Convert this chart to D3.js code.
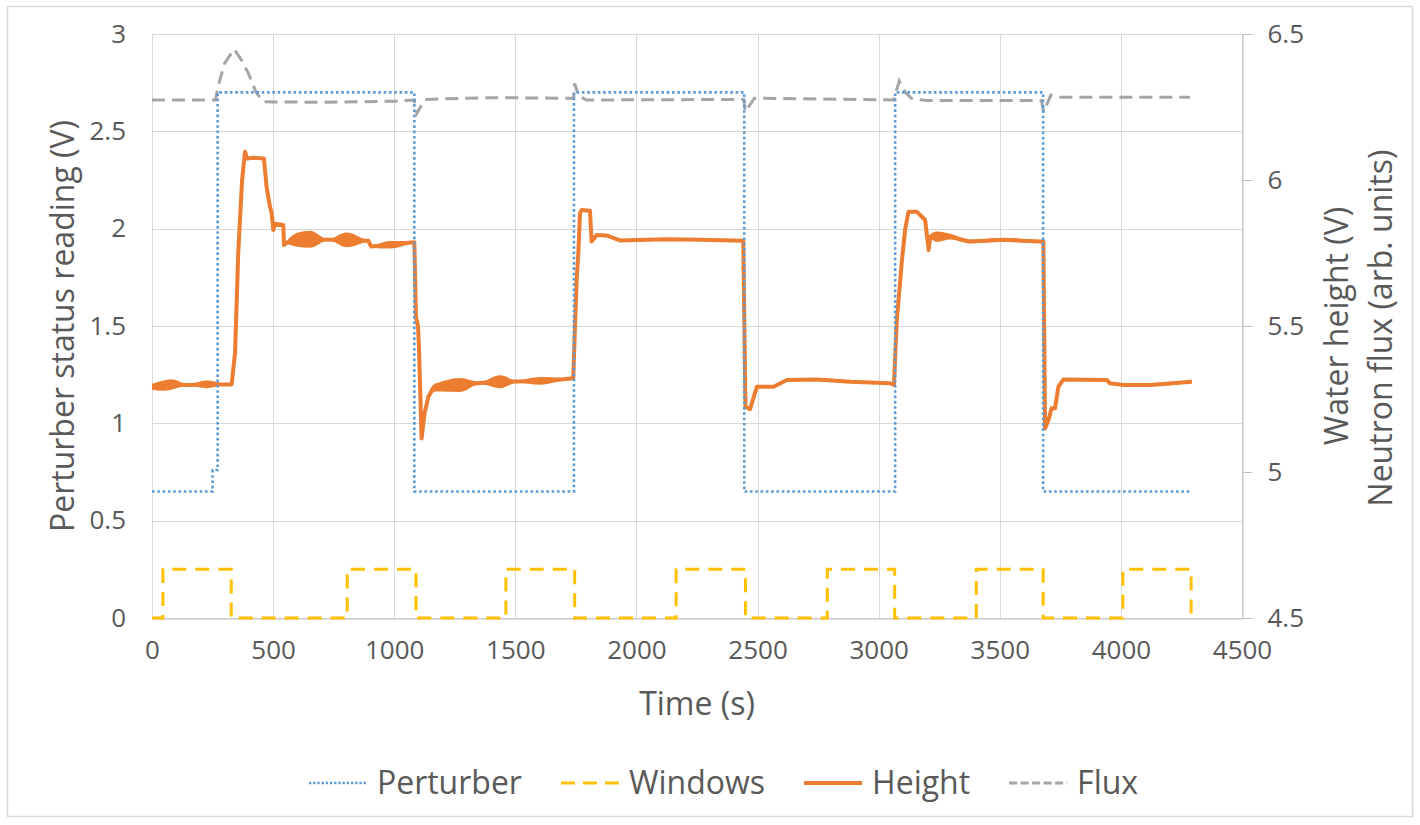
<!DOCTYPE html>
<html>
<head>
<meta charset="utf-8">
<script src="https://cdn.jsdelivr.net/npm/d3@7"></script>
<style>
  html, body { margin: 0; padding: 0; background: #fff; }
  svg { display: block; font-family: "Open Sans", "Noto Sans", sans-serif; }
</style>
</head>
<body>
<svg id="chart" width="1420" height="825"></svg>
<script>
// ---------------- data ----------------
const timeTicks = [0, 500, 1000, 1500, 2000, 2500, 3000, 3500, 4000, 4500];
const leftTicks = [0, 0.5, 1, 1.5, 2, 2.5, 3];
const rightTicks = [4.5, 5, 5.5, 6, 6.5];

// Perturber status (left axis, step series)
const perturberTime  = [0,    250,  271, 1083, 1742, 2445, 3068, 3679, 4284];
const perturberValue = [0.65, 0.76, 2.70, 0.65, 2.70, 0.65, 2.70, 0.65, 0.65];

// Windows (left axis, step series)
const windowsTime  = [0, 45,   327, 806,  1090, 1461, 1745, 2164, 2450, 2788, 3066, 3403, 3679, 4008, 4290];
const windowsValue = [0, 0.25, 0,   0.25, 0,    0.25, 0,    0.25, 0,    0.25, 0,    0.25, 0,    0.25, 0];

// Water height (right axis) + half-width of the oscillation band
const heightTime = [0, 40, 80, 150, 225, 290, 329, 343, 356, 372, 384, 392, 420, 462, 473, 487, 494, 501, 508, 542, 545,
  556, 600, 652, 727, 804, 880, 893, 905, 980, 1060, 1083,
  1090, 1098, 1102, 1113, 1125, 1141, 1162, 1189, 1272, 1354, 1437, 1506, 1602, 1700, 1739,
  1753, 1760, 1767, 1774, 1808, 1815, 1836, 1877, 1932, 2125, 2263, 2441,
  2450, 2469, 2497, 2566, 2621, 2745, 2882, 3047, 3063,
  3075, 3095, 3109, 3123, 3158, 3192, 3206, 3213, 3240, 3295, 3377, 3515, 3667, 3680,
  3687, 3701, 3714, 3728, 3742, 3763, 3942, 3955, 4010, 4120, 4293];
const heightValue = [5.292, 5.295, 5.300, 5.298, 5.300, 5.300, 5.300, 5.41, 5.75, 6.00, 6.097, 6.074, 6.076, 6.074, 5.977, 5.909, 5.886, 5.829, 5.850, 5.846, 5.777,
  5.785, 5.795, 5.797, 5.795, 5.795, 5.792, 5.792, 5.772, 5.778, 5.785, 5.787,
  5.53, 5.50, 5.43, 5.115, 5.20, 5.258, 5.287, 5.292, 5.298, 5.305, 5.309, 5.310, 5.312, 5.318, 5.321,
  5.658, 5.75, 5.886, 5.897, 5.895, 5.789, 5.812, 5.810, 5.793, 5.797, 5.795, 5.792,
  5.224, 5.215, 5.292, 5.292, 5.315, 5.317, 5.309, 5.304, 5.298,
  5.52, 5.715, 5.829, 5.891, 5.891, 5.863, 5.76, 5.806, 5.806, 5.806, 5.789, 5.795, 5.789, 5.789,
  5.150, 5.178, 5.218, 5.218, 5.292, 5.317, 5.315, 5.304, 5.298, 5.298, 5.309];
const heightBand = [0.010, 0.017, 0.018, 0.003, 0.013, 0.004, 0, 0, 0, 0, 0, 0, 0, 0, 0, 0, 0, 0, 0, 0, 0,
  0.005, 0.024, 0.029, 0.002, 0.025, 0.004, 0, 0.003, 0.013, 0.005, 0,
  0, 0, 0, 0, 0, 0.008, 0.012, 0.016, 0.024, 0.004, 0.022, 0.004, 0.013, 0.004, 0,
  0, 0, 0, 0, 0, 0, 0.003, 0.004, 0.004, 0.004, 0.004, 0,
  0, 0, 0.003, 0.004, 0.004, 0.005, 0.004, 0.003, 0,
  0, 0, 0, 0, 0, 0, 0, 0.008, 0.018, 0.010, 0.006, 0.006, 0.004, 0,
  0, 0, 0, 0, 0, 0.003, 0.003, 0.002, 0.003, 0.003, 0.004];

// Neutron flux (right axis)
const fluxTime  = [0, 262, 274, 300, 339, 370, 398, 430, 460, 700, 1000, 1083, 1093, 1109, 1127, 1400, 1741, 1745, 1760, 1793,
  2443, 2450, 2487, 3062, 3085, 3110, 3135, 3194, 3672, 3681, 3711, 3755, 4285];
const fluxValue = [6.274, 6.274, 6.325, 6.40, 6.448, 6.41, 6.365, 6.30, 6.268, 6.266, 6.270, 6.274, 6.228, 6.251, 6.276, 6.282, 6.280, 6.331, 6.29, 6.274,
  6.276, 6.234, 6.280, 6.274, 6.339, 6.30, 6.280, 6.272, 6.272, 6.234, 6.291, 6.283, 6.283];

const seriesNames = ["Perturber", "Windows", "Height", "Flux"];

// ---------------- drawing ----------------
const svg = d3.select("#chart");
const plot = { left: 152, right: 1242, top: 34, bottom: 618 };
const textColor = "#595959";
const gridColor = "#d9d9d9";
const axisColor = "#bfbfbf";
const colors = { Perturber: "#5B9BD5", Windows: "#FFC000", Height: "#ED7D31", Flux: "#A5A5A5" };

// chart frame
svg.append("rect").attr("x", 7.5).attr("y", 6.5).attr("width", 1405).attr("height", 810)
  .attr("fill", "#fff").attr("stroke", gridColor).attr("stroke-width", 1.5);

const x = d3.scaleLinear().domain([0, 4500]).range([plot.left, plot.right]);
const yL = d3.scaleLinear().domain([0, 3]).range([plot.bottom, plot.top]);
const yR = d3.scaleLinear().domain([4.5, 6.5]).range([plot.bottom, plot.top]);

// gridlines
svg.append("g").selectAll("line").data(leftTicks).join("line")
  .attr("x1", plot.left).attr("x2", plot.right)
  .attr("y1", d => Math.round(yL(d)) + 0.5).attr("y2", d => Math.round(yL(d)) + 0.5)
  .attr("stroke", gridColor).attr("stroke-width", 1);
svg.append("g").selectAll("line").data(timeTicks).join("line")
  .attr("x1", d => Math.round(x(d)) + 0.5).attr("x2", d => Math.round(x(d)) + 0.5)
  .attr("y1", plot.top).attr("y2", plot.bottom)
  .attr("stroke", gridColor).attr("stroke-width", 1);

// axes
const fmt = d => String(d);
const gLeft = svg.append("g").attr("transform", `translate(${plot.left},0)`)
  .call(d3.axisLeft(yL).tickValues(leftTicks).tickFormat(fmt).tickSize(0).tickPadding(26));
gLeft.select(".domain").remove();

const gRight = svg.append("g").attr("transform", `translate(${plot.right + 0.5},0)`)
  .call(d3.axisRight(yR).tickValues(rightTicks).tickFormat(fmt).tickSize(10).tickPadding(15));
gRight.select(".domain").attr("stroke", axisColor);
gRight.selectAll(".tick line").attr("stroke", axisColor);

const gBottom = svg.append("g").attr("transform", `translate(0,${plot.bottom + 0.5})`)
  .call(d3.axisBottom(x).tickValues(timeTicks).tickFormat(fmt).tickSize(0).tickPadding(22));
gBottom.select(".domain").attr("stroke", axisColor);

svg.selectAll(".tick text").attr("fill", textColor).style("font-size", "26px")
  .style("font-family", "'Open Sans', sans-serif");

// series
const stepLine = (yS) => d3.line().curve(d3.curveStepAfter).x(d => x(d[0])).y(d => yS(d[1]));
const perturberData = perturberTime.map((t, i) => [t, perturberValue[i]]);
const windowsData = windowsTime.map((t, i) => [t, windowsValue[i]]);
const heightData = heightTime.map((t, i) => [t, heightValue[i], heightBand[i]]);
const fluxData = fluxTime.map((t, i) => [t, fluxValue[i]]);

// Windows
svg.append("path").datum(windowsData).attr("d", stepLine(yL))
  .attr("fill", "none").attr("stroke", colors.Windows).attr("stroke-width", 3)
  .attr("stroke-dasharray", "14,9");

// Height: oscillation band + line
svg.append("path").datum(heightData)
  .attr("d", d3.area().curve(d3.curveMonotoneX).x(d => x(d[0])).y0(d => yR(d[1] - d[2])).y1(d => yR(d[1] + d[2])))
  .attr("fill", colors.Height).attr("stroke", "none");
svg.append("path").datum(heightData)
  .attr("d", d3.line().x(d => x(d[0])).y(d => yR(d[1])))
  .attr("fill", "none").attr("stroke", colors.Height).attr("stroke-width", 4)
  .attr("stroke-linejoin", "round");

// Flux
svg.append("path").datum(fluxData)
  .attr("d", d3.line().x(d => x(d[0])).y(d => yR(d[1])))
  .attr("fill", "none").attr("stroke", colors.Flux).attr("stroke-width", 3)
  .attr("stroke-dasharray", "13,7");

// Perturber
svg.append("path").datum(perturberData).attr("d", stepLine(yL))
  .attr("fill", "none").attr("stroke", colors.Perturber).attr("stroke-width", 2.6)
  .attr("stroke-dasharray", "2.6,2.7");

// axis titles
svg.append("text").attr("transform", "translate(74,326) rotate(-90)")
  .attr("text-anchor", "middle").attr("fill", textColor).style("font-size", "32px")
  .text("Perturber status reading (V)");
svg.append("text").attr("transform", "translate(1348,326) rotate(-90)")
  .attr("text-anchor", "middle").attr("fill", textColor).style("font-size", "32px")
  .text("Water height (V)");
svg.append("text").attr("transform", "translate(1392,328) rotate(-90)")
  .attr("text-anchor", "middle").attr("fill", textColor).style("font-size", "32px")
  .text("Neutron flux (arb. units)");
svg.append("text").attr("x", 697).attr("y", 715)
  .attr("text-anchor", "middle").attr("fill", textColor).style("font-size", "32px")
  .text("Time (s)");

// legend
const legendStyles = {
  Perturber: { dash: "2.4,1.8", w: 2.6 },
  Windows: { dash: "14,8", w: 3 },
  Height: { dash: null, w: 4 },
  Flux: { dash: "8,3.5", w: 3 }
};
const legend = svg.append("g");
let lx = 0;
seriesNames.forEach(name => {
  const g = legend.append("g");
  const st = legendStyles[name];
  g.append("line").attr("x1", 0).attr("x2", 58).attr("y1", 0).attr("y2", 0)
    .attr("stroke", colors[name]).attr("stroke-width", st.w)
    .attr("stroke-dasharray", st.dash);
  const t = g.append("text").attr("x", 68).attr("y", 11).attr("fill", textColor)
    .style("font-size", "32px").text(name);
  const w = 68 + t.node().getComputedTextLength();
  g.attr("transform", `translate(${lx},783)`);
  lx += w + 39;
});
const total = lx - 39;
legend.attr("transform", `translate(${723.5 - total / 2},0)`);
</script>
</body>
</html>
